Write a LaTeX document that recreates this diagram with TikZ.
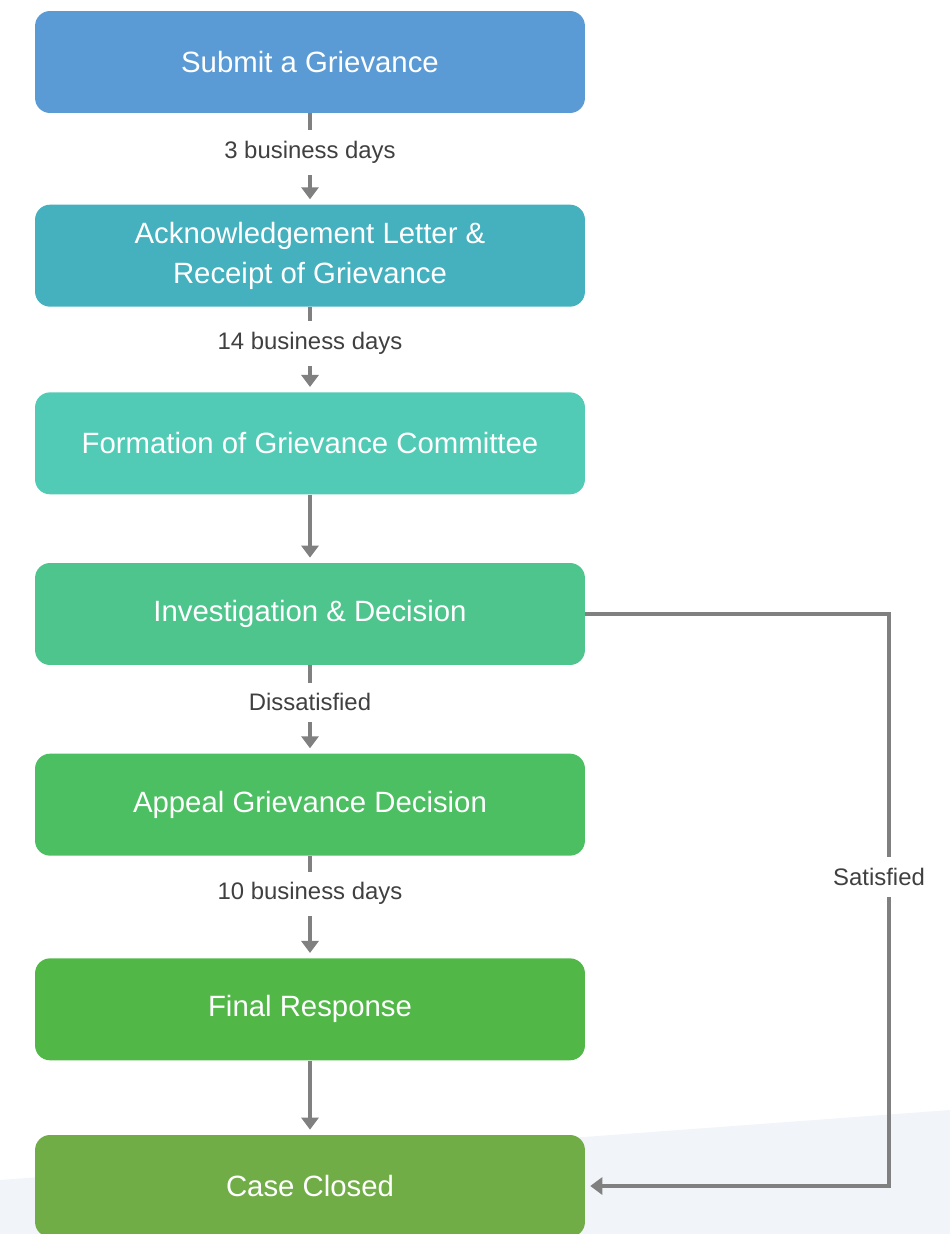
\documentclass[tikz,border=0pt]{standalone}
\usepackage{fontspec}
\setmainfont{Liberation Sans}
\usetikzlibrary{arrows.meta,positioning,calc}
\definecolor{GRBlue}{HTML}{5B9BD5}
\definecolor{GRTeal}{HTML}{45B0BE}
\definecolor{GRAqua}{HTML}{52CBB6}
\definecolor{GRMint}{HTML}{4FC58E}
\definecolor{GRGreen}{HTML}{4BBF61}
\definecolor{GRLeaf}{HTML}{51B848}
\definecolor{GROlive}{HTML}{70AD47}
\definecolor{GRArrow}{HTML}{808080}
\definecolor{GRText}{HTML}{404040}
\definecolor{GRBand}{HTML}{F1F4F9}
\tikzset{
 stage/.style={rounded corners=0.3cm,minimum width=11cm,minimum height=2.04cm,inner sep=0pt,
  text=white,align=center,font=\fontsize{16.7}{23}\selectfont},
 flow/.style={draw=GRArrow,line width=2.4pt,shorten >=0.1cm,-{Triangle[length=0.24cm,width=0.34cm]}},
 gap/.style={fill=white,text=GRText,inner xsep=2pt,inner ysep=0.22cm,font=\fontsize{13.6}{16}\selectfont}
}
\begin{document}
\begin{tikzpicture}[x=0.02cm,y=-0.02cm]
\useasboundingbox (0,0) rectangle (950,1234);
\fill[GRBand] (0,1180) -- (950,1110) -- (950,1234) -- (0,1234) -- cycle;
\node[stage,fill=GRBlue] (submit) at (310,62) {Submit a Grievance};
\node[stage,fill=GRTeal,below=1.82cm of submit] (ack) {Acknowledgement Letter \&\\Receipt of Grievance};
\node[stage,fill=GRAqua,below=1.70cm of ack] (committee) {Formation of Grievance Committee};
\node[stage,fill=GRMint,below=1.36cm of committee] (inv) {Investigation \& Decision};
\node[stage,fill=GRGreen,below=1.76cm of inv] (appeal) {Appeal Grievance Decision};
\node[stage,fill=GRLeaf,below=2.04cm of appeal] (final) {Final Response};
\node[stage,fill=GROlive,below=1.48cm of final] (closed) {Case Closed};
\coordinate (side) at (889,0);
\draw[flow] (submit) -- node[gap,pos=0.43] {3 business days} (ack);
\draw[flow] (ack) -- node[gap,pos=0.43] {14 business days} (committee);
\draw[flow] (committee) -- (inv);
\draw[flow] (inv) -- node[gap,pos=0.42] {Dissatisfied} (appeal);
\draw[flow] (appeal) -- node[gap,pos=0.37] {10 business days} (final);
\draw[flow] (final) -- (closed);
\draw[flow] (inv.east) -- (inv.east -| side) -- node[gap,pos=0.46,xshift=-0.2cm] {Satisfied} (side |- closed.east) -- (closed.east);
\end{tikzpicture}
\end{document}
